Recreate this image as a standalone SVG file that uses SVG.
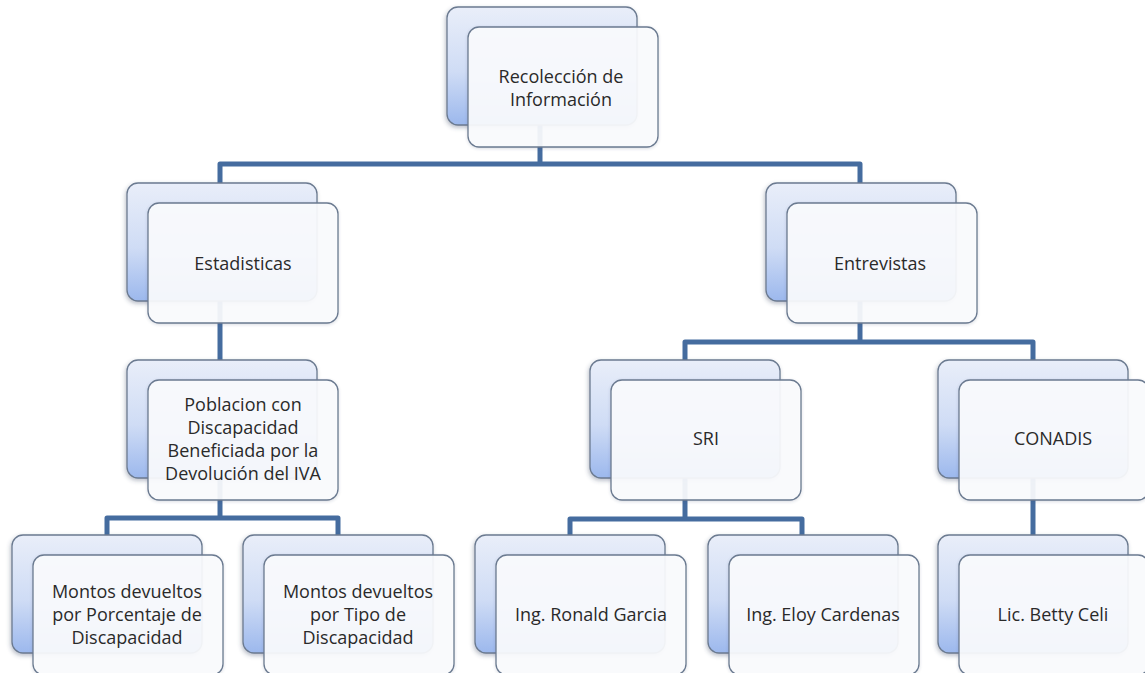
<svg xmlns="http://www.w3.org/2000/svg" width="1145" height="673" viewBox="0 0 1145 673">
<defs>
<linearGradient id="bg" x1="0" y1="0" x2="0" y2="1">
<stop offset="0" stop-color="#e9eef9"/>
<stop offset="0.55" stop-color="#cfdcf5"/>
<stop offset="1" stop-color="#9cb8ed"/>
</linearGradient>
<filter id="sh" x="-10%" y="-10%" width="120%" height="125%">
<feDropShadow dx="-1" dy="2" stdDeviation="2" flood-color="#3a4a66" flood-opacity="0.35"/>
</filter>
<filter id="sh2" x="-10%" y="-10%" width="120%" height="125%">
<feDropShadow dx="0" dy="1" stdDeviation="1.5" flood-color="#3a4a66" flood-opacity="0.2"/>
</filter>
</defs>
<style>
.back{fill:url(#bg);stroke:#6b7a90;stroke-width:1.3;filter:url(#sh)}
.front{fill:#fbfcfe;fill-opacity:0.92;stroke:#6b7a90;stroke-width:1.3;filter:url(#sh2)}
.t{font-family:"Open Sans","Liberation Sans",sans-serif;font-size:18px;fill:#2a2a2a;text-anchor:middle}
.c{fill:none;stroke:#456c9f;stroke-width:5;stroke-linejoin:round}
</style>
<rect width="1145" height="673" fill="#ffffff"/>
<g id="connectors">
<path class="c" d="M540 110 V164"/>
<path class="c" d="M220 185 V164 H860 V185"/>
<path class="c" d="M220 290 V362"/>
<path class="c" d="M860 290 V342"/>
<path class="c" d="M685 362 V342 H1033 V362"/>
<path class="c" d="M220 460 V518"/>
<path class="c" d="M107 537 V518 H338 V537"/>
<path class="c" d="M685 460 V519"/>
<path class="c" d="M570 537 V519 H802 V537"/>
<path class="c" d="M1033 460 V537"/>
</g>
<g id="n-recoleccion">
<rect class="back" x="447" y="7" width="190" height="118" rx="11"/>
<rect class="front" x="468" y="27" width="190" height="120" rx="11"/>
<text class="t" x="561" y="83">Recolección de</text>
<text class="t" x="561" y="106">Información</text>
</g>
<g id="n-estadisticas">
<rect class="back" x="127" y="183" width="190" height="118" rx="11"/>
<rect class="front" x="148" y="203" width="190" height="120" rx="11"/>
<text class="t" x="243" y="270">Estadisticas</text>
</g>
<g id="n-entrevistas">
<rect class="back" x="766" y="183" width="190" height="118" rx="11"/>
<rect class="front" x="787" y="203" width="190" height="120" rx="11"/>
<text class="t" x="880" y="270">Entrevistas</text>
</g>
<g id="n-poblacion">
<rect class="back" x="127" y="360" width="190" height="118" rx="11"/>
<rect class="front" x="148" y="380" width="190" height="120" rx="11"/>
<text class="t" x="243" y="411">Poblacion con</text>
<text class="t" x="243" y="434">Discapacidad</text>
<text class="t" x="243" y="457">Beneficiada por la</text>
<text class="t" x="243" y="480">Devolución del IVA</text>
</g>
<g id="n-sri">
<rect class="back" x="590" y="360" width="190" height="118" rx="11"/>
<rect class="front" x="611" y="380" width="190" height="120" rx="11"/>
<text class="t" x="706" y="445">SRI</text>
</g>
<g id="n-conadis">
<rect class="back" x="938" y="360" width="190" height="118" rx="11"/>
<rect class="front" x="959" y="380" width="190" height="120" rx="11"/>
<text class="t" x="1053" y="445">CONADIS</text>
</g>
<g id="n-montos-porcentaje">
<rect class="back" x="12" y="535" width="190" height="118" rx="11"/>
<rect class="front" x="33" y="555" width="190" height="120" rx="11"/>
<text class="t" x="127" y="598">Montos devueltos</text>
<text class="t" x="127" y="621">por Porcentaje de</text>
<text class="t" x="127" y="644">Discapacidad</text>
</g>
<g id="n-montos-tipo">
<rect class="back" x="243" y="535" width="190" height="118" rx="11"/>
<rect class="front" x="264" y="555" width="190" height="120" rx="11"/>
<text class="t" x="358" y="598">Montos devueltos</text>
<text class="t" x="358" y="621">por Tipo de</text>
<text class="t" x="358" y="644">Discapacidad</text>
</g>
<g id="n-ronald">
<rect class="back" x="475" y="535" width="190" height="118" rx="11"/>
<rect class="front" x="496" y="555" width="190" height="120" rx="11"/>
<text class="t" x="591" y="621">Ing. Ronald Garcia</text>
</g>
<g id="n-eloy">
<rect class="back" x="708" y="535" width="190" height="118" rx="11"/>
<rect class="front" x="729" y="555" width="190" height="120" rx="11"/>
<text class="t" x="823" y="621">Ing. Eloy Cardenas</text>
</g>
<g id="n-betty">
<rect class="back" x="938" y="535" width="190" height="118" rx="11"/>
<rect class="front" x="959" y="555" width="190" height="120" rx="11"/>
<text class="t" x="1053" y="621">Lic. Betty Celi</text>
</g>
</svg>
